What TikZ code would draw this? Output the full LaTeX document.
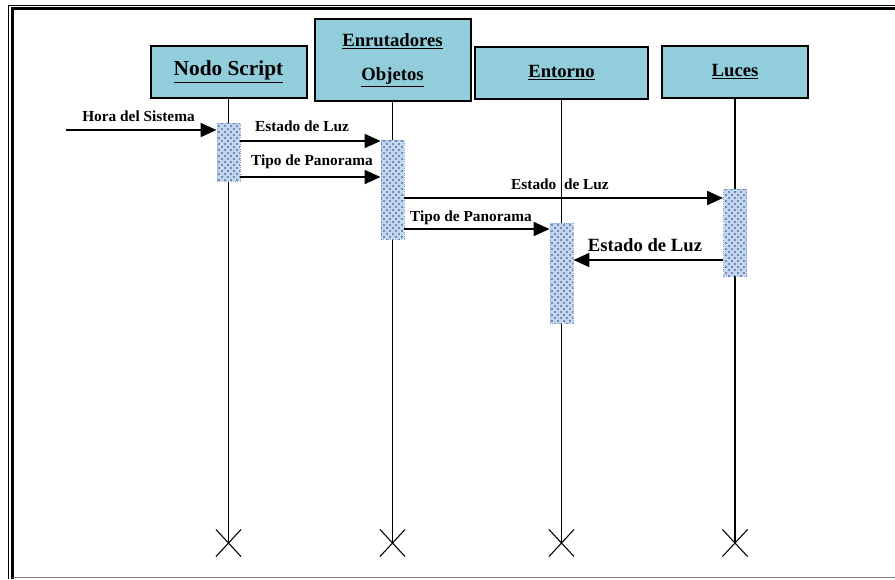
\documentclass[tikz,border=0pt]{standalone}
\usepackage{fontspec}
\setmainfont{Liberation Serif}
\usepackage{xcolor}
\usepackage{tikz}
\usetikzlibrary{arrows.meta, positioning, shapes.misc, patterns}
\definecolor{objcyan}{RGB}{146, 205, 220}
\definecolor{actblue}{RGB}{195, 214, 240}
\definecolor{actdots}{RGB}{45, 65, 120}
\definecolor{actedge}{RGB}{120, 160, 220}
\pgfdeclarepatternformonly{seqdots}{\pgfqpoint{-1pt}{-1pt}}{\pgfqpoint{4pt}{4pt}}{\pgfqpoint{4.5pt}{4.5pt}}{
    \pgfpathcircle{\pgfqpoint{0pt}{0pt}}{0.7pt}
    \pgfpathcircle{\pgfqpoint{2.25pt}{2.25pt}}{0.7pt}
    \pgfusepath{fill}
}

\begin{document}
\begin{tikzpicture}[
    x=0.75pt, y=-0.75pt,
    every node/.style={font=\bfseries},
    object/.style={rectangle, draw, line width=1.5pt, fill=objcyan, minimum height=39pt, inner sep=0pt, align=center, font=\fontsize{14}{25.5}\selectfont\bfseries},
    activation/.style={rectangle, draw=actedge, densely dotted, line width=0.7pt, fill=actblue, postaction={pattern=seqdots, pattern color=actdots}, minimum width=17.25pt, inner sep=0pt},
    lifeline/.style={line width=1.3pt},
    endmark/.style={cross out, draw, line width=0.8pt, minimum width=18pt, minimum height=19.5pt, inner sep=0pt},
    msg/.style={line width=1.5pt, -{Triangle[length=12pt, width=10.5pt]}},
    msglabel/.style={anchor=base, inner sep=0pt, font=\fontsize{11.5}{13}\selectfont\bfseries}
]
\useasboundingbox (0,0) rectangle (895,579);
% page frame
\draw[line width=0.75pt] (8.5,579) -- (8.5,5.5) -- (895,5.5);
\draw[line width=2.25pt] (12.5,579) -- (12.5,8.5) -- (895,8.5);
\draw[gray, line width=0.75pt] (12.5,577.8) -- (895,577.8);

\node[object, minimum width=117pt, font=\fontsize{16}{19}\selectfont\bfseries] (script) at (228.5,72) {\underline{Nodo Script}};
\node[object, minimum width=117pt, minimum height=61.5pt] (router) at (392.5,60) {\underline{Enrutadores}\\\underline{Objetos}};
\node[object, minimum width=129.75pt] (entorno) at (561.5,73) {\underline{Entorno}};
\node[object, minimum width=109.5pt] (luces) at (735,72) {\underline{Luces}};

\coordinate (lifeend) at (0,543);
\foreach \obj in {script, router, entorno, luces} {
    \node[endmark] (end-\obj) at (\obj |- lifeend) {};
    \draw[lifeline] (\obj.south) -- (end-\obj.center);
}

\node[activation, minimum height=43.5pt] (act-script) at (script |- 0,152) {};
\node[activation, minimum height=74.25pt] (act-router) at (router |- 0,189.5) {};
\node[activation, minimum height=75pt] (act-entorno) at (entorno |- 0,273) {};
\node[activation, minimum height=65.25pt] (act-luces) at (luces |- 0,232.5) {};

\coordinate (sistema) at (66,130);
\draw[msg] (sistema) -- (act-script.west |- sistema);
\node[msglabel] (lbl-hora) at (138.5,121) {Hora del Sistema};

\draw[msg] (act-script.east |- 0,141) -- (act-router.west |- 0,141);
\node[msglabel] (lbl-luz1) at (302,131) {Estado de Luz};

\draw[msg] (act-script.east |- 0,177) -- (act-router.west |- 0,177);
\node[msglabel] (lbl-pan1) at (312,165.5) {Tipo de Panorama};

\draw[msg] (act-router.east |- 0,198) -- (act-luces.west |- 0,198);
\node[msglabel] (lbl-luz2) at (560,189.5) {Estado~~de Luz};

\draw[msg] (act-router.east |- 0,229) -- (act-entorno.west |- 0,229);
\node[msglabel] (lbl-pan2) at (471,221.5) {Tipo de Panorama};

\draw[msg] (act-luces.west |- 0,260) -- (act-entorno.east |- 0,260);
\node[msglabel, font=\fontsize{14}{16}\selectfont\bfseries] (lbl-luz3) at (645,251) {Estado de Luz};
\end{tikzpicture}
\end{document}
